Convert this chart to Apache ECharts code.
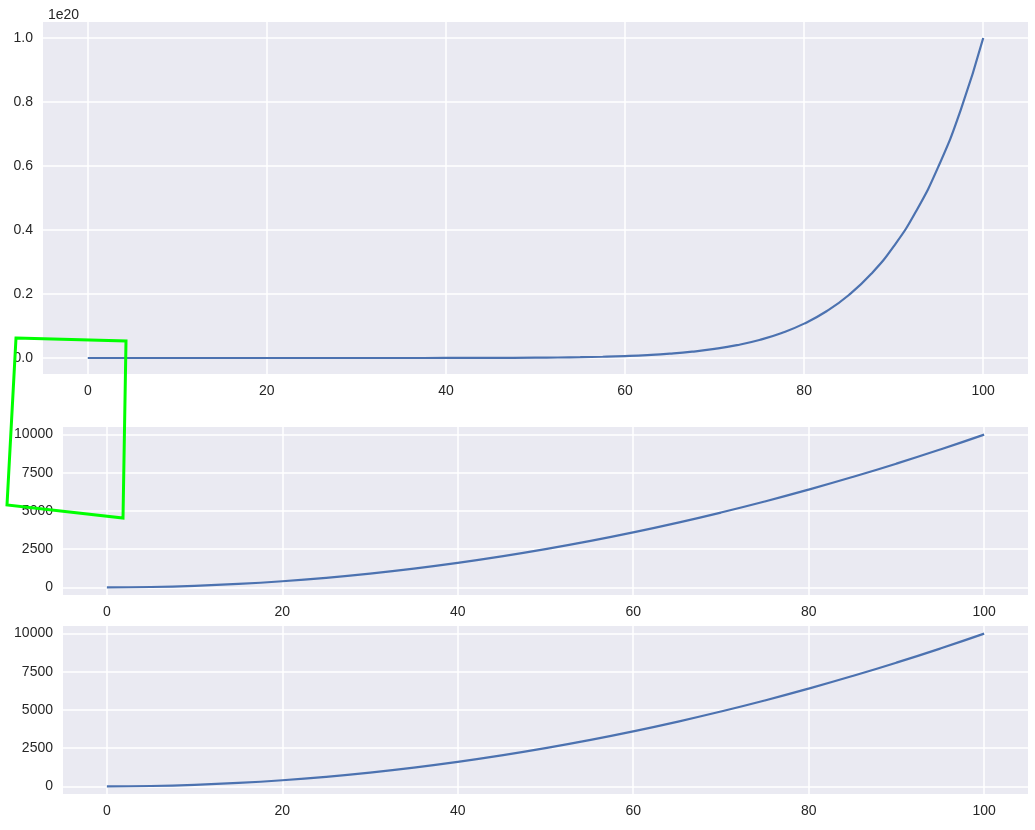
<!DOCTYPE html>
<html>
<head>
<meta charset="utf-8">
<script src="https://cdn.jsdelivr.net/npm/echarts@6/dist/echarts.min.js"></script>
<style>html,body{margin:0;padding:0;background:#fff;}#c{width:1035px;height:830px;}</style>
</head>
<body>
<div id="c"></div>
<script>
// x sample positions
const xValues = [0, 5, 10, 15, 20, 25, 30, 35, 40, 45, 50, 52.5, 55, 57.5, 60, 62.5, 65, 67.5, 70, 72.5, 75, 77.5, 80, 82.5, 85, 87.5, 90, 92.5, 95, 97.5, 100];
// top panel values
const topValues = [0, 9.77e6, 1e10, 5.77e11, 1.024e13, 9.54e13, 5.9e14, 2.76e15, 1.05e16, 3.4e16, 9.77e16, 1.59e17, 2.53e17, 3.95e17, 6.05e17, 9.09e17, 1.346e18, 1.963e18, 2.825e18, 4.012e18, 5.63e18, 7.816e18, 1.074e19, 1.461e19, 1.969e19, 2.631e19, 3.487e19, 4.585e19, 5.987e19, 7.763e19, 1e20];
// middle / bottom panel values
const sqX = [0, 5, 10, 15, 20, 25, 30, 35, 40, 45, 50, 55, 60, 65, 70, 75, 80, 85, 90, 95, 100];
const middleValues = [0, 25, 100, 225, 400, 625, 900, 1225, 1600, 2025, 2500, 3025, 3600, 4225, 4900, 5625, 6400, 7225, 8100, 9025, 10000];
const bottomValues = [0, 25, 100, 225, 400, 625, 900, 1225, 1600, 2025, 2500, 3025, 3600, 4225, 4900, 5625, 6400, 7225, 8100, 9025, 10000];
// tick labels
const xTicks = [0, 20, 40, 60, 80, 100];
const topYTicks = [0, 2e19, 4e19, 6e19, 8e19, 1e20];
const sqYTicks = [0, 2500, 5000, 7500, 10000];
const offsetText = '1e20';

const FONT = "'Liberation Sans', Arial, sans-serif";
const TXT = '#262626';
const BG = '#EAEAF2';
const LINE = '#4C72B0';

function xAxis(gi) {
  return {
    type: 'value', gridIndex: gi, min: -5, max: 105,
    axisLine: {show: false},
    axisTick: {show: false, customValues: xTicks},
    axisLabel: {customValues: xTicks, color: TXT, fontSize: 14, fontFamily: FONT, margin: 10},
    splitLine: {show: true, lineStyle: {color: '#fff', width: 1.5}}
  };
}
function yAxis(gi, min, max, ticks, fmt) {
  return {
    type: 'value', gridIndex: gi, min: min, max: max,
    axisLine: {show: false},
    axisTick: {show: false, customValues: ticks},
    axisLabel: {customValues: ticks, color: TXT, fontSize: 14, fontFamily: FONT, margin: 10, formatter: fmt},
    splitLine: {show: true, lineStyle: {color: '#fff', width: 1.5}}
  };
}
function lineSeries(gi, xs, ys) {
  return {type: 'line', xAxisIndex: gi, yAxisIndex: gi, data: xs.map((x, i) => [x, ys[i]]),
    showSymbol: false, smooth: true, lineStyle: {color: LINE, width: 2.2}};
}
const chart = echarts.init(document.getElementById('c'), null, {renderer: 'canvas'});
chart.setOption({
  animation: false,
  backgroundColor: '#fff',
  title: {text: offsetText, left: 43, top: 3, textStyle: {color: TXT, fontSize: 14, fontWeight: 'normal', fontFamily: FONT}},
  grid: [
    {left: 43, top: 22, width: 985, height: 352, show: true, backgroundColor: BG, borderWidth: 0},
    {left: 63, top: 427, width: 965, height: 168, show: true, backgroundColor: BG, borderWidth: 0},
    {left: 63, top: 626, width: 965, height: 168, show: true, backgroundColor: BG, borderWidth: 0}
  ],
  xAxis: [xAxis(0), xAxis(1), xAxis(2)],
  yAxis: [
    yAxis(0, -0.05e20, 1.05e20, topYTicks, v => (v / 1e20).toFixed(1)),
    yAxis(1, -500, 10500, sqYTicks, v => String(Math.round(v))),
    yAxis(2, -500, 10500, sqYTicks, v => String(Math.round(v)))
  ],
  series: [
    lineSeries(0, xValues, topValues),
    lineSeries(1, sqX, middleValues),
    lineSeries(2, sqX, bottomValues)
  ],
  graphic: [{
    type: 'polygon', z: 100,
    shape: {points: [[16, 338], [126, 341], [123, 518], [7, 505]]},
    style: {fill: null, stroke: '#00ff00', lineWidth: 3, lineJoin: 'miter'}
  }]
});
</script>
</body>
</html>
